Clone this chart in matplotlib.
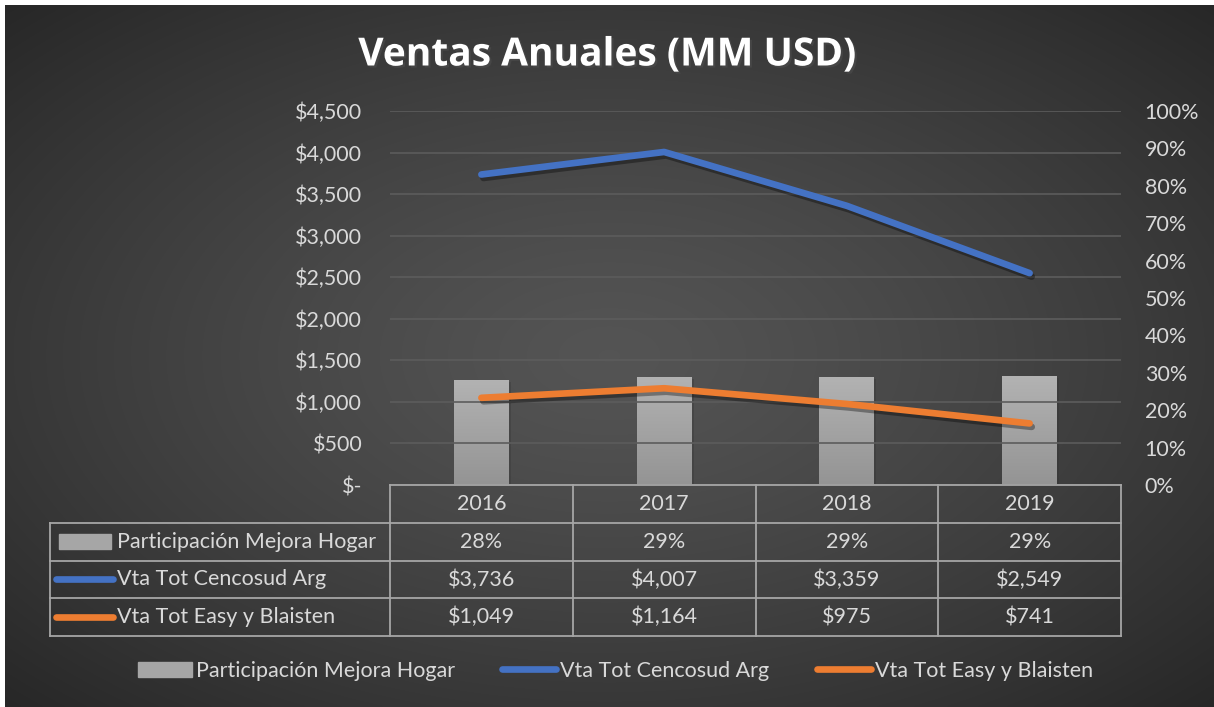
import numpy as np
import matplotlib.pyplot as plt
import matplotlib.patheffects as pe
from matplotlib.transforms import blended_transform_factory
from matplotlib.ticker import FuncFormatter, MultipleLocator
from matplotlib.lines import Line2D
from matplotlib.patches import Rectangle

years = ["2016", "2017", "2018", "2019"]
participacion = [0.281, 0.290, 0.290, 0.291]
vta_cencosud = [3736, 4007, 3359, 2549]
vta_easy = [1049, 1164, 975, 741]
series_names = ["Participación Mejora Hogar", "Vta Tot Cencosud Arg", "Vta Tot Easy y Blaisten"]

FONT = "Lato"
FS = 15.5
TXT = "#d9d9d9"
GRID = "#5c5c5c"
BLUE = "#4472c4"
ORANGE = "#ed7d31"
BAR = "#a6a6a6"

W, H = 1214, 707
fig = plt.figure(figsize=(W / 100, H / 100), dpi=100)
fig.patch.set_facecolor("white")

# radial gradient background
bg = fig.add_axes([5 / W, 0, 1 - 5 / W, 1 - 5 / H], zorder=-10)
yy, xx = np.mgrid[0:1:300j, 0:1:500j]
r = np.sqrt(((xx - 0.5) / 0.75) ** 2 + ((yy - 0.5) / 0.75) ** 2)
shade = 0.33 - 0.19 * np.clip(r, 0, 1) ** 1.3
bg.imshow(np.dstack([shade] * 3), aspect="auto", extent=[0, 1, 0, 1], interpolation="bilinear")
bg.set_axis_off()

left, right, top, bottom = 390, 1121, 111, 485
ax = fig.add_axes([left / W, 1 - bottom / H, (right - left) / W, (bottom - top) / H])
ax.patch.set_alpha(0)
ax2 = ax.twinx()
ax.set_zorder(2)
ax2.set_zorder(1)

x = np.arange(len(years))
shadow = [pe.SimpleLineShadow(offset=(1.5, -2.5), alpha=0.35, shadow_color="black"), pe.Normal()]
ax.plot(x, vta_cencosud, color=BLUE, lw=4.8, solid_capstyle="round", path_effects=shadow, zorder=3)
ax.plot(x, vta_easy, color=ORANGE, lw=4.8, solid_capstyle="round", path_effects=shadow, zorder=3)

bars = ax2.bar(x, participacion, width=0.3, color=BAR, zorder=2)
grad = np.linspace(0.70, 0.58, 100).reshape(-1, 1)
for b in bars:
    b.set_path_effects([pe.SimplePatchShadow(offset=(1.5, -1.5), alpha=0.3), pe.Normal()])
    im = ax2.imshow(np.dstack([grad] * 3), aspect="auto", zorder=2.1, interpolation="bilinear",
                    extent=[b.get_x(), b.get_x() + b.get_width(), 0, b.get_height()])
    im.set_clip_path(b)
ax2.set_aspect("auto")

ax.set_xlim(-0.5, 3.5)
ax2.set_xlim(-0.5, 3.5)
ax.set_ylim(0, 4500)
ax.yaxis.set_major_locator(MultipleLocator(500))
ax.yaxis.set_major_formatter(FuncFormatter(lambda v, p: "$-" if v == 0 else f"${v:,.0f}"))
ax2.set_ylim(0, 1.0)
ax2.yaxis.set_major_locator(MultipleLocator(0.1))
ax2.yaxis.set_major_formatter(FuncFormatter(lambda v, p: f"{v * 100:.0f}%"))

ax.grid(axis="y", color=GRID, lw=1.2)
ax.set_axisbelow(True)
for a in (ax, ax2):
    for s in a.spines.values():
        s.set_visible(False)
    a.tick_params(length=0, labelsize=FS, labelcolor=TXT)
    for lab in a.get_yticklabels():
        lab.set_fontfamily(FONT)
ax.tick_params(axis="y", pad=20)
ax2.tick_params(axis="y", pad=17)
ax.set_xticks([])
ax2.set_xticks([])

# data table under the plot
tr = blended_transform_factory(ax.transData, ax.transAxes)
row_h = 0.101
x_left = -2.36
edges = np.arange(len(years) + 1) - 0.5
lc = "#a6a6a6"
lkw = dict(color=lc, lw=1.3, transform=tr, clip_on=False, zorder=5)
ax.add_line(Line2D([edges[0], edges[-1]], [0, 0], **lkw))
for e in edges:
    ax.add_line(Line2D([e, e], [0, -4 * row_h], **lkw))
for i in range(1, 5):
    ax.add_line(Line2D([x_left, edges[-1]], [-i * row_h] * 2, **lkw))
ax.add_line(Line2D([x_left, x_left], [-row_h, -4 * row_h], **lkw))

tkw = dict(transform=tr, ha="center", va="center", fontsize=FS, color=TXT, family=FONT, clip_on=False)
rows = [[f"{v * 100:.0f}%" for v in participacion],
        [f"${v:,.0f}" for v in vta_cencosud],
        [f"${v:,.0f}" for v in vta_easy]]
for j, yr in enumerate(years):
    ax.text(x[j], -0.5 * row_h, yr, **tkw)
    for k, row in enumerate(rows):
        ax.text(x[j], -(k + 1.5) * row_h, row[j], **tkw)

# row labels with legend keys
key_x0 = x_left + 0.035
for k, name in enumerate(series_names):
    yc = -(k + 1.5) * row_h
    if k == 0:
        ax.add_patch(Rectangle((key_x0 + 0.015, yc - 0.02), 0.285, 0.04, color=BAR, transform=tr,
                               clip_on=False, zorder=5))
    else:
        col = BLUE if k == 1 else ORANGE
        ax.add_line(Line2D([key_x0, key_x0 + 0.31], [yc, yc], color=col, lw=4.8, solid_capstyle="round",
                           transform=tr, clip_on=False, zorder=5))
    ax.text(key_x0 + 0.33, yc, name, transform=tr, ha="left", va="center", fontsize=FS,
            color=TXT, family=FONT, clip_on=False)

# bottom legend
handles = [Rectangle((0, 0), 1, 1, color=BAR),
           Line2D([], [], color=BLUE, lw=4.8, solid_capstyle="round"),
           Line2D([], [], color=ORANGE, lw=4.8, solid_capstyle="round")]
leg = fig.legend(handles, series_names, loc="center", bbox_to_anchor=(0.507, 1 - 671 / H), ncol=3,
                 frameon=False, handlelength=2.5, handletextpad=0.2, columnspacing=2.2,
                 prop={"family": FONT, "size": FS})
for t in leg.get_texts():
    t.set_color(TXT)

fig.text(0.5, 1 - 55 / H, "Ventas Anuales (MM USD)", ha="center", va="center", fontsize=28,
         fontweight="bold", color="white", family="Open Sans",
         path_effects=[pe.withSimplePatchShadow(offset=(1.5, -1.5), alpha=0.6)])

fig.savefig("out.png", dpi=100, facecolor=fig.get_facecolor())
